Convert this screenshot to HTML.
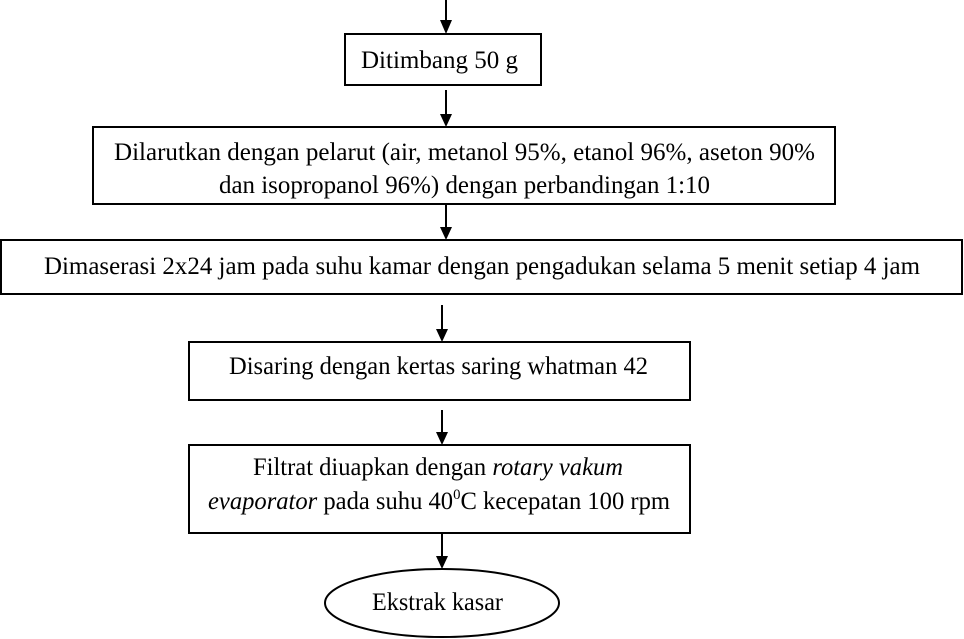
<!DOCTYPE html>
<html><head><meta charset="utf-8"><style>
html,body{margin:0;padding:0;background:#fff;width:964px;height:639px;overflow:hidden}
svg text{font-family:"Liberation Serif",serif;font-size:25px;fill:#000}
</style></head><body>
<svg width="964" height="639" viewBox="0 0 964 639">
<g stroke="#000" stroke-width="2" fill="none">
<line x1="446" y1="0" x2="446" y2="22"/>
<rect x="345" y="34" width="196" height="51" fill="#fff"/>
<line x1="446" y1="90" x2="446" y2="116"/>
<rect x="93" y="127" width="742" height="77" fill="#fff"/>
<line x1="446" y1="204" x2="446" y2="229"/>
<rect x="1" y="240" width="961" height="54" fill="#fff"/>
<line x1="442" y1="305" x2="442" y2="331"/>
<rect x="189" y="342" width="501" height="58" fill="#fff"/>
<line x1="442" y1="410" x2="442" y2="434"/>
<rect x="189" y="445" width="501" height="88" fill="#fff"/>
<line x1="442" y1="533" x2="442" y2="557"/>
<ellipse cx="442" cy="603" rx="117" ry="34" fill="#fff"/>
</g>
<g fill="#000">
<polygon points="440,20 452,20 446,34"/>
<polygon points="440,114 452,114 446,127"/>
<polygon points="440,227 452,227 446,240"/>
<polygon points="436,329 448,329 442,342"/>
<polygon points="436,432 448,432 442,445"/>
<polygon points="436,556 448,556 442,569"/>
</g>
<text x="361" y="68" textLength="157" lengthAdjust="spacingAndGlyphs">Ditimbang 50 g</text>
<text x="114" y="160" textLength="701" lengthAdjust="spacingAndGlyphs">Dilarutkan dengan pelarut (air, metanol 95%, etanol 96%, aseton 90%</text>
<text x="219" y="193" textLength="491" lengthAdjust="spacingAndGlyphs">dan isopropanol 96%) dengan perbandingan 1:10</text>
<text x="44" y="274" textLength="876" lengthAdjust="spacingAndGlyphs">Dimaserasi 2x24 jam pada suhu kamar dengan pengadukan selama 5 menit setiap 4 jam</text>
<text x="229" y="374" textLength="419" lengthAdjust="spacingAndGlyphs">Disaring dengan kertas saring whatman 42</text>
<text x="253" y="475" textLength="370" lengthAdjust="spacingAndGlyphs">Filtrat diuapkan dengan <tspan font-style="italic">rotary vakum</tspan></text>
<text x="208" y="509" textLength="462" lengthAdjust="spacingAndGlyphs"><tspan font-style="italic">evaporator</tspan> pada suhu 40<tspan font-size="15" dy="-10">0</tspan><tspan dy="10">C kecepatan 100 rpm</tspan></text>
<text x="372" y="610" textLength="131" lengthAdjust="spacingAndGlyphs">Ekstrak kasar</text>
</svg>
</body></html>
